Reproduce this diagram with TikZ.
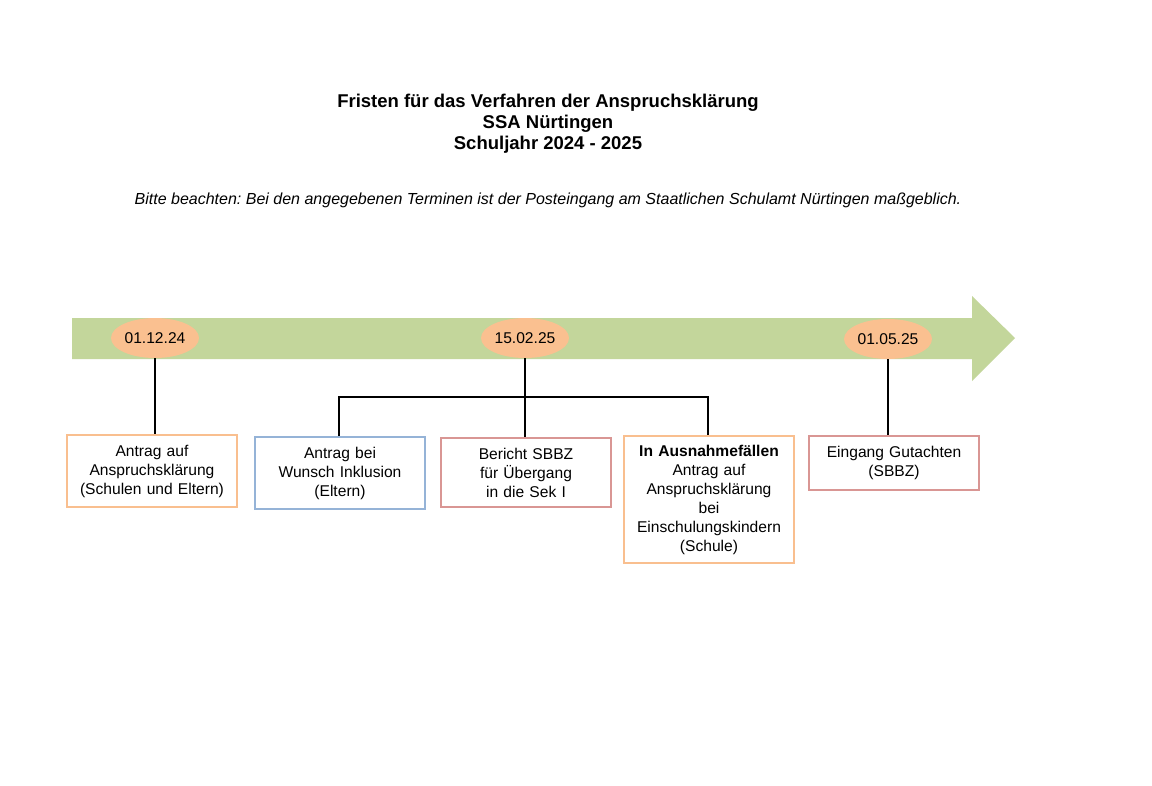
\documentclass[tikz,border=0pt]{standalone}
\usepackage{fontspec}
\setmainfont{Liberation Sans}
\usetikzlibrary{shapes.geometric}
\frenchspacing
\definecolor{arrowgreen}{HTML}{C3D69B}
\definecolor{dateorange}{HTML}{FAC090}
\definecolor{boxorange}{HTML}{F9BF8F}
\definecolor{boxblue}{HTML}{95B3D7}
\definecolor{boxred}{HTML}{D99694}
\tikzset{
  datebubble/.style={ellipse, fill=dateorange, minimum width=88, minimum height=40, inner sep=0, font=\fontsize{15.6}{18}\selectfont},
  infobox/.style={rectangle, draw=#1, line width=1.6, fill=white, minimum width=170, text width=166, align=center, inner sep=0, font=\fontsize{15.6}{19}\selectfont},
  conn/.style={draw=black, line width=1.8},
}
\begin{document}
\frenchspacing
\begin{tikzpicture}[x=1pt,y=-1pt]
\useasboundingbox[fill=white] (0,0) rectangle (1152,785);
% title
\node[align=center, font=\fontsize{18.5}{21}\selectfont\bfseries, anchor=center] (title) at (548,123.5)
  {Fristen für das Verfahren der Anspruchsklärung\\SSA Nürtingen\\Schuljahr 2024 - 2025};
\node[font=\fontsize{16}{18}\selectfont\itshape] (note) at (548,200)
  {Bitte beachten: Bei den angegebenen Terminen ist der Posteingang am Staatlichen Schulamt Nürtingen maßgeblich.};
% arrow
\fill[arrowgreen] (72,318) -- (972,318) -- (972,296) -- (1015,338) -- (972,381) -- (972,359) -- (72,359) -- cycle;
% dates
\node[datebubble] (d1) at (155,338) {01.12.24};
\node[datebubble] (d2) at (525,338) {15.02.25};
\node[datebubble] (d3) at (888,339) {01.05.25};
% boxes
\node[infobox=boxorange, minimum height=72] (b1) at (152,471) {Antrag auf\\Anspruchsklärung\\(Schulen und Eltern)};
\node[infobox=boxblue, minimum height=72] (b2) at (340,473) {Antrag bei\\Wunsch Inklusion\\(Eltern)};
\node[infobox=boxred, minimum height=69] (b3) at (526,472.5) {Bericht SBBZ\\für Übergang\\in die Sek I};
\node[infobox=boxorange, minimum height=127] (b4) at (709,499.5) {\textbf{In Ausnahmefällen}\\Antrag auf\\Anspruchsklärung\\bei\\Einschulungskindern\\(Schule)};
\node[infobox=boxred, minimum height=54] (b5) at (894,463) {Eingang Gutachten\\(SBBZ)};
% connectors
\coordinate (jl) at (339,397);
\coordinate (jr) at (708,397);
\draw[conn] (d1.south) -- (d1.south |- b1.north);
\draw[conn] (d2.south) -- (d2.south |- b3.north);
\draw[conn] (jl |- b2.north) -- (jl) -- (jr) -- (jr |- b4.north);
\draw[conn] (d3.south) -- (d3.south |- b5.north);
\end{tikzpicture}
\end{document}
